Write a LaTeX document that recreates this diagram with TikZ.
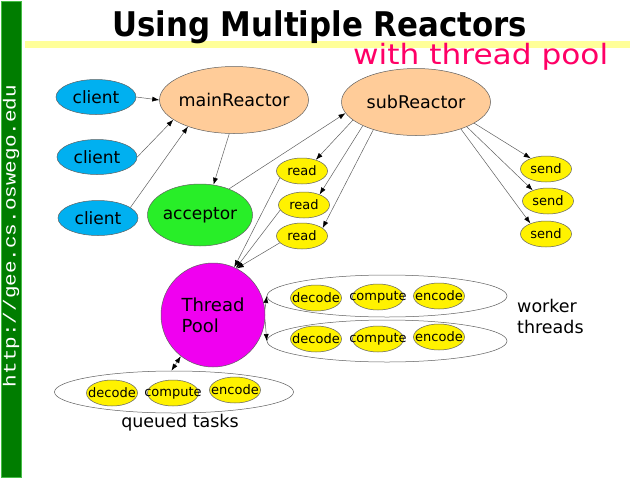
\documentclass[tikz,border=0pt]{standalone}
\usepackage{fontspec}
\setmainfont{DejaVu Sans}
\newfontfamily\urlfont{Liberation Mono}
\usetikzlibrary{shapes.geometric,arrows.meta}

\definecolor{bargreen}{RGB}{0,125,0}
\definecolor{barline}{RGB}{70,190,70}
\definecolor{hiliteyellow}{RGB}{255,255,153}
\definecolor{subpink}{RGB}{255,0,102}
\definecolor{clientblue}{RGB}{0,176,240}
\definecolor{reactorpeach}{RGB}{255,204,153}
\definecolor{acceptgreen}{RGB}{40,238,40}
\definecolor{poolmagenta}{RGB}{240,0,240}
\definecolor{edgegray}{RGB}{95,95,95}

\tikzset{
  oval/.style={ellipse,draw=edgegray,line width=0.5pt,inner sep=0pt,
    execute at begin node={\hbox to 0pt\bgroup\hss},
    execute at end node={\hss\egroup}},
  client/.style={oval,fill=clientblue,minimum width=80pt,minimum height=35pt,
    font=\fontsize{17}{20}\selectfont},
  reactor/.style={oval,fill=reactorpeach,minimum width=149pt,minimum height=67pt,
    font=\fontsize{17.5}{21}\selectfont},
  job/.style={oval,fill=yellow,minimum width=51pt,minimum height=26pt,
    font=\fontsize{13}{15}\selectfont},
  tasks/.style={oval,fill=white,minimum width=240pt,minimum height=42pt},
  tip/.tip={Latex[length=7pt,width=5pt,color=black]},
  link/.style={draw=edgegray,line width=0.5pt,-tip},
  caption/.style={inner sep=0pt,font=\fontsize{17.5}{21}\selectfont},
}

\begin{document}
\begin{tikzpicture}[x=1pt,y=-1pt]
	\useasboundingbox (0,0) rectangle (630,480);

	% slide frame: side bar, title, highlight
	\fill[bargreen,draw=barline,line width=0.8pt] (1,1) rectangle (21,477);
	\node[rotate=90,text=white,inner sep=0pt] (url) at (11,236)
		{\resizebox{302pt}{\height}{\urlfont\fontsize{17.5}{20}\selectfont http://gee.cs.oswego.edu}};
	\fill[hiliteyellow] (25,41) rectangle (630,48);
	\node[anchor=base west,inner sep=0pt] (title) at (112,36)
		{\resizebox{415pt}{\height}{\fontsize{34}{40}\selectfont\bfseries Using Multiple Reactors}};
	\node[anchor=base west,inner sep=0pt,text=subpink] (subtitle) at (353,64)
		{\resizebox{255pt}{\height}{\fontsize{28}{32}\selectfont with thread pool}};

	% clients and reactors
	\node[client] (client1) at (96,97) {client};
	\node[client] (client2) at (97,157) {client};
	\node[client] (client3) at (98,218) {client};
	\node[reactor] (mainR) at (234,100) {mainReactor};
	\node[reactor] (subR) at (416,102) {subReactor};
	\node[oval,fill=acceptgreen,minimum width=105pt,minimum height=62pt,
		font=\fontsize{17}{20}\selectfont] (acceptor) at (200,215) {acceptor};

	\node[job] (read1) at (302,171) {read};
	\node[job] (read2) at (304,205) {read};
	\node[job] (read3) at (302,236) {read};
	\node[job] (send1) at (546,169) {send};
	\node[job] (send2) at (548,201) {send};
	\node[job] (send3) at (546,234) {send};

	% thread pool with its task groups
	\node[circle,draw=edgegray,line width=0.5pt,fill=poolmagenta,minimum size=104pt,
		inner sep=0pt,align=left,font=\fontsize{18}{21}\selectfont] (pool) at (213,315) {Thread\\Pool};

	\node[tasks] (worker1) at (387,296) {};
	\node[job] (wdecode1) at (316,298) {decode};
	\node[job] (wcompute1) at (378,297) {compute};
	\node[job] (wencode1) at (439,296) {encode};
	\node[tasks] (worker2) at (387,341) {};
	\node[job] (wdecode2) at (316,339) {decode};
	\node[job] (wcompute2) at (378,339) {compute};
	\node[job] (wencode2) at (439,337) {encode};
	\node[caption,anchor=west,align=left] (workerlabel) at (517,316) {worker\\threads};

	\node[tasks,minimum width=239pt] (queued) at (174,392) {};
	\node[job] (qdecode) at (112,393) {decode};
	\node[job] (qcompute) at (173,393) {compute};
	\node[job] (qencode) at (235,390) {encode};
	\node[caption,anchor=base] (queuedlabel) at (180,427) {queued tasks};

	% connectors
	\draw[link] (client1.east) -- (mainR.west);
	\draw[link] (client2.east) -- (mainR.198);
	\draw[link] (client3.18) -- (mainR.210);
	\draw[link] (mainR.262) -- (acceptor.66);
	\draw[link] (acceptor.42) -- (subR.189);
	\draw[link] (subR.196) -- (read1.39);
	\draw[link] (subR.204) -- (read2.34);
	\draw[link] (subR.213) -- (read3.21);
	\draw[link] (subR.340) -- (send1.145);
	\draw[link] (subR.334) -- (send2.145);
	\draw[link] (subR.329) -- (send3.146);
	\draw[link] (read1.197) -- (pool.66);
	\draw[link] (read2.192) -- (pool.64);
	\draw[link] (read3.197) -- (pool.63);
	\draw[link] (pool.6) -- (worker1.west);
	\draw[link] (pool.355) -- (worker2.west);
	\draw[link,tip-tip] (pool.232) -- (queued.97);
\end{tikzpicture}
\end{document}
